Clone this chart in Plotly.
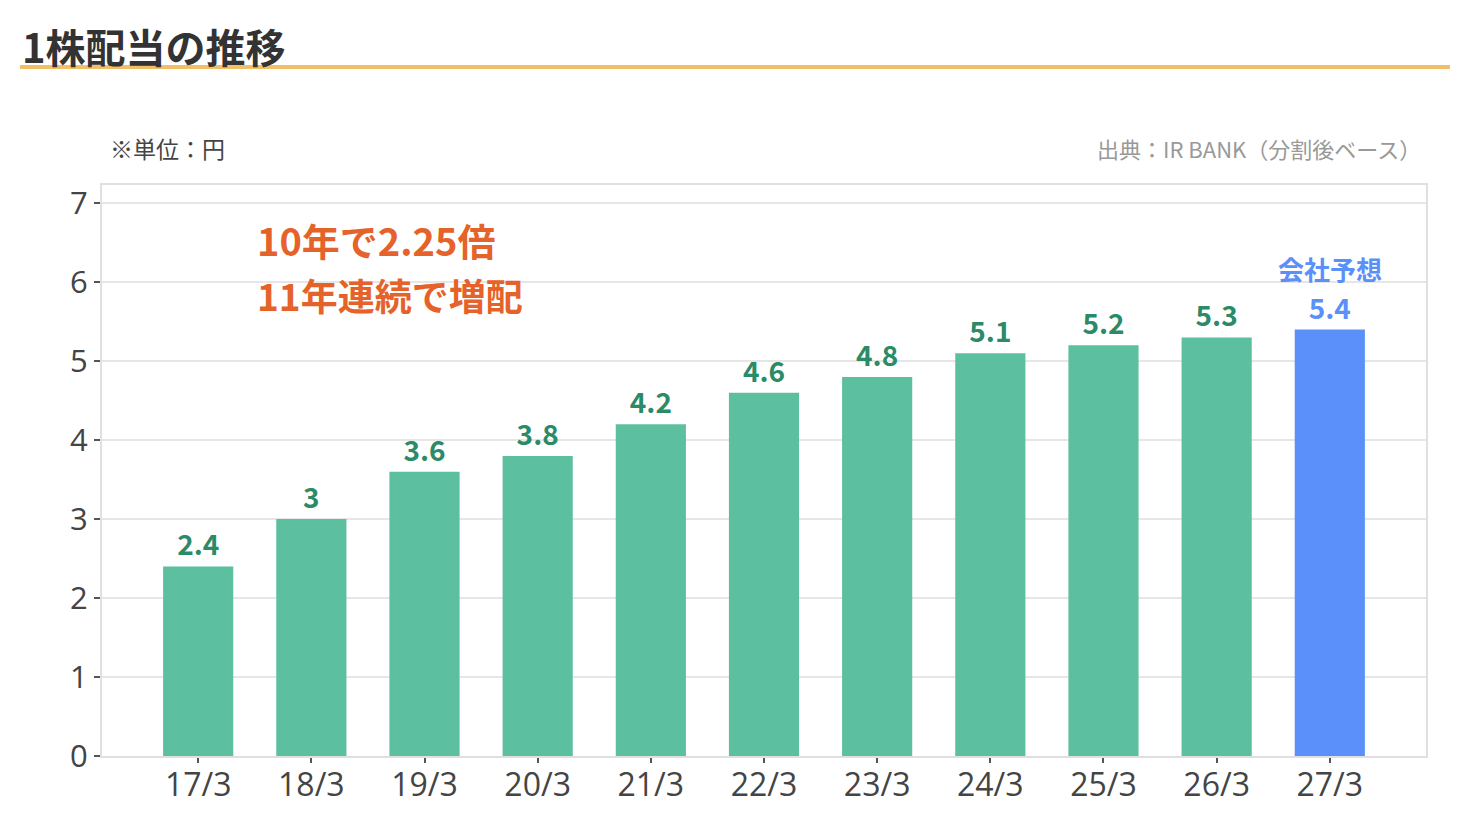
import plotly.graph_objects as go

# data
years = ["17/3", "18/3", "19/3", "20/3", "21/3", "22/3", "23/3", "24/3", "25/3", "26/3", "27/3"]
dividends = [2.4, 3.0, 3.6, 3.8, 4.2, 4.6, 4.8, 5.1, 5.2, 5.3, 5.4]
forecast = [False] * 10 + [True]

green = "#5cbf9f"
green_dark = "#2b8a68"
blue = "#5b8ff9"
orange = "#e5632a"

bar_colors = [blue if f else green for f in forecast]
label_colors = [blue if f else green_dark for f in forecast]
labels = [f"{v:g}" for v in dividends]

font_jp = "Noto Sans CJK JP"
font_tick = "Open Sans"

W, H = 1470, 840
OFF = 8  # page offset of the figure inside the window
ML, MR, MT, MB = 102 - OFF, 52, 185 - OFF, 92


def px(x):
    # page pixel x -> paper coordinate
    return (x - OFF - ML) / (W - ML - MR)


def py(y):
    # page pixel y -> paper coordinate
    return (H - MB - (y - OFF)) / (H - MT - MB)


fig = go.Figure()
fig.add_trace(go.Bar(
    x=list(range(len(years))),
    y=dividends,
    width=0.62,
    marker=dict(color=bar_colors, line=dict(width=0)),
    text=labels,
    textposition="outside",
    textfont=dict(family=font_jp, size=28, color=label_colors, weight="bold"),
    cliponaxis=False,
    hoverinfo="x+y",
))

# forecast caption above last bar
fc_idx = forecast.index(True)
fig.add_annotation(
    x=fc_idx, y=dividends[fc_idx], xref="x", yref="y",
    yshift=61, text="<b>会社予想</b>", showarrow=False,
    font=dict(family=font_jp, size=26, color=blue),
)

fig.add_annotation(text="<b>1株配当の推移</b>", x=px(20), y=py(46),
                   xref="paper", yref="paper", showarrow=False,
                   xanchor="left", yanchor="middle",
                   font=dict(family=font_jp, size=40, color="#333"))
fig.add_annotation(text="※単位：円", x=px(108), y=py(148),
                   xref="paper", yref="paper", showarrow=False,
                   xanchor="left", yanchor="middle",
                   font=dict(family=font_jp, size=23, color="#444"))
fig.add_annotation(text="出典：IR BANK（分割後ベース）", x=px(1423), y=py(148),
                   xref="paper", yref="paper", showarrow=False,
                   xanchor="right", yanchor="middle",
                   font=dict(family=font_jp, size=22, color="#999"))
fig.add_annotation(text="<b>10年で2.25倍</b>", x=px(255), y=py(240),
                   xref="paper", yref="paper", showarrow=False,
                   xanchor="left", yanchor="middle",
                   font=dict(family=font_jp, size=38, color=orange))
fig.add_annotation(text="<b>11年連続で増配</b>", x=px(255), y=py(295),
                   xref="paper", yref="paper", showarrow=False,
                   xanchor="left", yanchor="middle",
                   font=dict(family=font_jp, size=37, color=orange))

# orange rule under the title
fig.add_shape(type="line", xref="paper", yref="paper",
              x0=px(20), x1=px(1450), y0=py(67), y1=py(67),
              line=dict(color="#f2bf66", width=4))

fig.update_layout(
    width=W, height=H,
    paper_bgcolor="white", plot_bgcolor="white",
    margin=dict(l=ML, r=MR, t=MT, b=MB),
    showlegend=False,
    font=dict(family=font_jp, color="#444"),
    xaxis=dict(
        range=[-0.85, len(years) - 0.15],
        tickmode="array", tickvals=list(range(len(years))), ticktext=years,
        showgrid=False, zeroline=False,
        showline=True, linecolor="#e0e0e0", linewidth=2, mirror=True,
        ticks="outside", ticklen=5, tickwidth=2, tickcolor="#555",
        ticklabelstandoff=-5,
        tickfont=dict(size=32, color="#444", family=font_tick),
    ),
    yaxis=dict(
        range=[0, 7.23],
        tickvals=[0, 1, 2, 3, 4, 5, 6, 7],
        showgrid=True, gridcolor="#e6e6e6", gridwidth=2,
        zeroline=False,
        showline=True, linecolor="#e0e0e0", linewidth=2, mirror=True,
        ticks="outside", ticklen=6, tickwidth=2, tickcolor="#555",
        tickfont=dict(size=31, color="#444", family=font_tick),
    ),
)

fig.write_html("out.html")
